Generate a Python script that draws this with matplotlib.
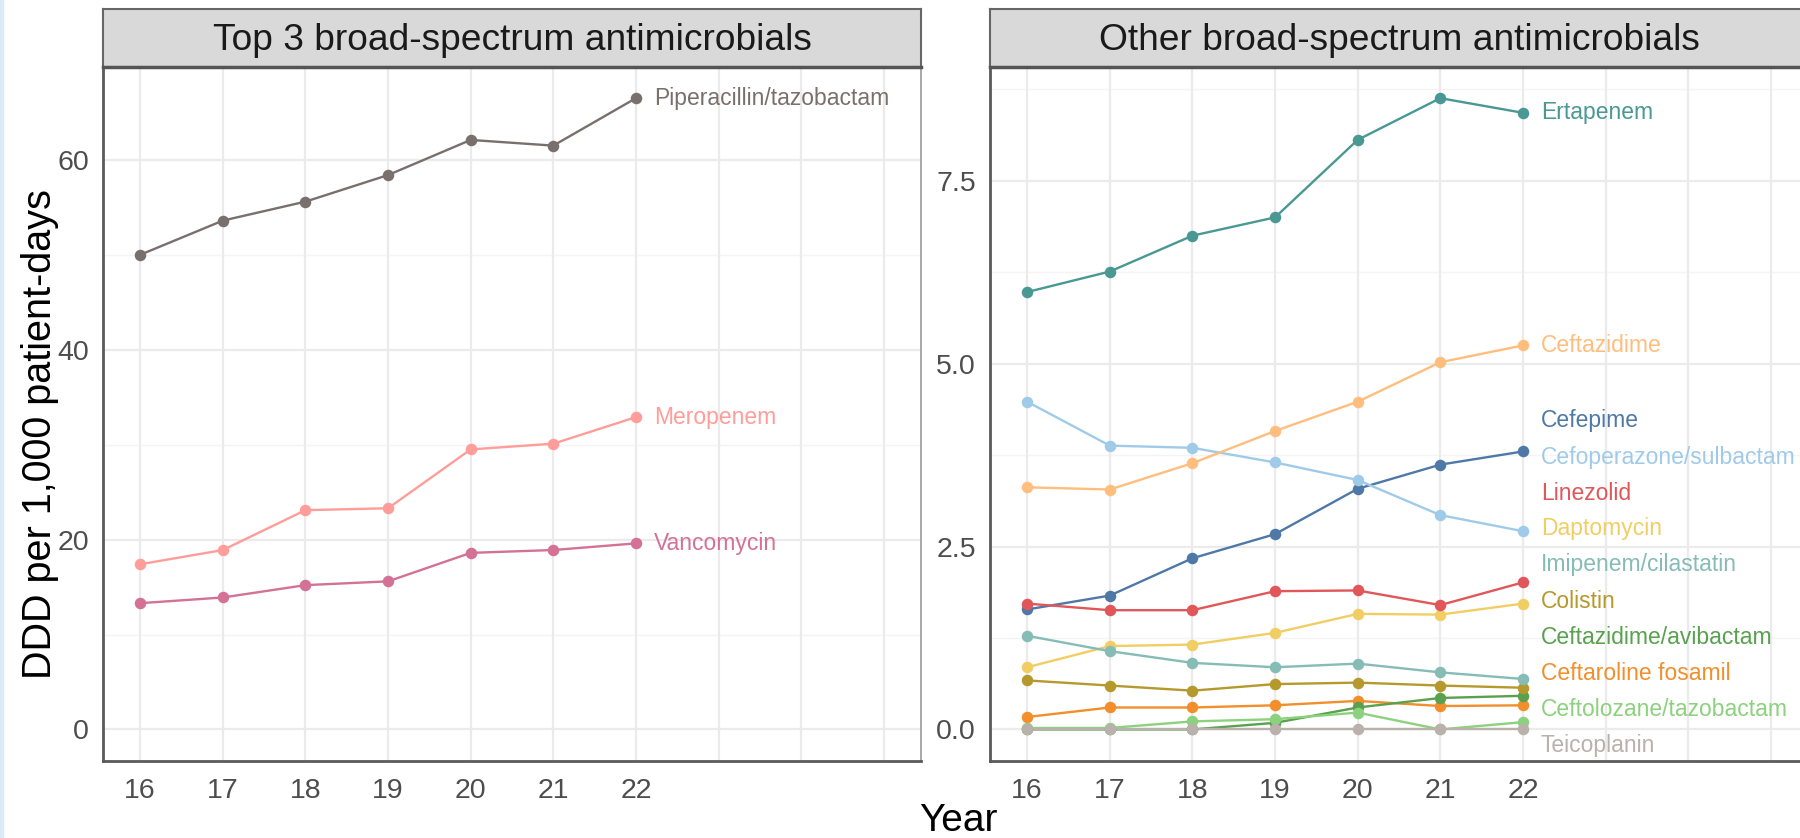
import matplotlib
matplotlib.use("Agg")
import matplotlib.pyplot as plt
from matplotlib.patches import Rectangle
import numpy as np

plt.rcParams['font.family'] = ['Liberation Sans', 'DejaVu Sans']

# ---------------- data ----------------
years = [16, 17, 18, 19, 20, 21, 22]
year_labels = ["16", "17", "18", "19", "20", "21", "22"]

# Top 3 panel
piperacillin_tazobactam = [50.0, 53.6, 55.6, 58.4, 62.1, 61.5, 66.5]
meropenem = [17.4, 18.9, 23.1, 23.3, 29.5, 30.1, 32.9]
vancomycin = [13.3, 13.9, 15.2, 15.6, 18.6, 18.9, 19.6]

# Other panel
cefepime = [1.64, 1.83, 2.34, 2.67, 3.29, 3.62, 3.80]
cefoperazone_sulbactam = [4.48, 3.88, 3.85, 3.65, 3.41, 2.93, 2.71]
ceftaroline_fosamil = [0.17, 0.30, 0.30, 0.33, 0.39, 0.32, 0.33]
ceftazidime = [3.31, 3.28, 3.64, 4.08, 4.48, 5.02, 5.25]
ceftazidime_avibactam = [0.0, 0.0, 0.0, 0.09, 0.30, 0.43, 0.46]
ceftolozane_tazobactam = [0.02, 0.02, 0.11, 0.14, 0.23, 0.0, 0.10]
colistin = [0.67, 0.60, 0.53, 0.62, 0.64, 0.60, 0.57]
daptomycin = [0.85, 1.14, 1.16, 1.32, 1.58, 1.57, 1.72]
ertapenem = [5.98, 6.26, 6.75, 7.00, 8.06, 8.63, 8.43]
imipenem_cilastatin = [1.28, 1.07, 0.91, 0.85, 0.90, 0.78, 0.69]
linezolid = [1.72, 1.63, 1.63, 1.89, 1.90, 1.70, 2.01]
teicoplanin = [0.0, 0.0, 0.0, 0.0, 0.0, 0.0, 0.0]

panel_titles = ["Top 3 broad-spectrum antimicrobials", "Other broad-spectrum antimicrobials"]

top3 = {
    "Meropenem": meropenem,
    "Piperacillin/tazobactam": piperacillin_tazobactam,
    "Vancomycin": vancomycin,
}
others = {
    "Cefepime": cefepime,
    "Cefoperazone/sulbactam": cefoperazone_sulbactam,
    "Ceftaroline fosamil": ceftaroline_fosamil,
    "Ceftazidime": ceftazidime,
    "Ceftazidime/avibactam": ceftazidime_avibactam,
    "Ceftolozane/tazobactam": ceftolozane_tazobactam,
    "Colistin": colistin,
    "Daptomycin": daptomycin,
    "Ertapenem": ertapenem,
    "Imipenem/cilastatin": imipenem_cilastatin,
    "Linezolid": linezolid,
    "Teicoplanin": teicoplanin,
}

colors = {
    "Cefepime": "#4E79A7",
    "Cefoperazone/sulbactam": "#A0CBE8",
    "Ceftaroline fosamil": "#F28E2B",
    "Ceftazidime": "#FFBE7D",
    "Ceftazidime/avibactam": "#59A14F",
    "Ceftolozane/tazobactam": "#8CD17D",
    "Colistin": "#B6992D",
    "Daptomycin": "#F1CE63",
    "Ertapenem": "#499894",
    "Imipenem/cilastatin": "#86BCB6",
    "Linezolid": "#E15759",
    "Meropenem": "#FF9D9A",
    "Piperacillin/tazobactam": "#79706E",
    "Teicoplanin": "#BAB0AC",
    "Vancomycin": "#D37295",
}

# ---------------- figure / layout ----------------
W, H = 1800, 838
fig = plt.figure(figsize=(W / 100, H / 100), dpi=100)

def fx(px):
    return px / W

def fy(py):
    return 1 - py / H

panel_top, panel_bot = 66.6, 761.0
strip_top = 9.0
panel_w = 818
lefts = [103, 990]

x_lo, x_hi = 16, 25
x_pad = 0.05 * (x_hi - x_lo)

grid_major = "#EBEBEB"
grid_minor = "#F4F4F4"


def repel(names, ends, ax, gap_px=36.0, bottom_px=16.0):
    """1-D label de-overlap: clusters centred on their mean (PAVA), then bounded."""
    y0, y1 = ax.get_ylim()
    ppu = (panel_bot - panel_top) / (y1 - y0)
    gap = gap_px / ppu
    lo = y0 + bottom_px / ppu
    order = list(np.argsort(ends))
    z = [ends[i] - k * gap for k, i in enumerate(order)]
    blocks = []  # [sum, count]
    for v in z:
        blocks.append([v, 1])
        while len(blocks) > 1 and blocks[-2][0] / blocks[-2][1] > blocks[-1][0] / blocks[-1][1]:
            s, c = blocks.pop()
            blocks[-1][0] += s
            blocks[-1][1] += c
    fit = []
    for s, c in blocks:
        fit += [s / c] * c
    ys = [fit[k] + k * gap for k in range(len(order))]
    pos = {}
    prev = None
    for k, i in enumerate(order):
        y = max(ys[k], lo)
        if prev is not None:
            y = max(y, prev + gap)
        pos[names[i]] = y
        prev = y
    return pos


def draw_panel(idx, series, title, major, minor, fmt):
    left = lefts[idx]
    ax = fig.add_axes([fx(left), fy(panel_bot), fx(panel_w), (panel_bot - panel_top) / H])
    vals = np.concatenate([np.asarray(v, float) for v in series.values()])
    dmin, dmax = min(0.0, vals.min()), vals.max()
    ypad = 0.05 * (dmax - dmin)
    ax.set_ylim(dmin - ypad, dmax + ypad)
    ax.set_xlim(x_lo - x_pad, x_hi + x_pad)

    for m in minor:
        ax.axhline(m, color=grid_minor, lw=1.0, zorder=0)
    for m in major:
        ax.axhline(m, color=grid_major, lw=1.6, zorder=0)
    for xv in range(x_lo, x_hi + 1):
        ax.axvline(xv, color=grid_major, lw=1.6, zorder=0)

    names = sorted(series.keys())
    for n in names:
        ax.plot(years, series[n], color=colors[n], lw=1.7, zorder=2,
                solid_capstyle='round')
    for n in names:
        ax.plot(years, series[n], 'o', color=colors[n], ms=8.3, mew=0, zorder=3)

    ends = [series[n][-1] for n in names]
    pos = repel(names, ends, ax)
    for n in names:
        ax.annotate(n, xy=(years[-1], pos[n]), xytext=(13, 0), textcoords='offset points',
                    va='center', ha='left', color=colors[n], fontsize=16.5, zorder=4)

    ax.set_yticks(major)
    ax.set_yticklabels([fmt(m) for m in major])
    ax.set_xticks(years)
    ax.set_xticklabels(year_labels)
    ax.tick_params(axis='both', length=0, labelsize=20.5, labelcolor="#4D4D4D")
    ax.tick_params(axis='y', pad=10)
    ax.tick_params(axis='x', pad=12.5)
    for s in ['top', 'right']:
        ax.spines[s].set_color('#A0A0A0')
        ax.spines[s].set_linewidth(1.3)
    for s in ['left', 'bottom']:
        ax.spines[s].set_color('#5A5A5A')
        ax.spines[s].set_linewidth(2.0)
    ax.set_facecolor('white')

    sax = fig.add_axes([fx(left), fy(panel_top), fx(panel_w), (panel_top - strip_top) / H])
    sax.set_facecolor('#D9D9D9')
    sax.set_xticks([])
    sax.set_yticks([])
    for s in sax.spines.values():
        s.set_color('#666666')
        s.set_linewidth(1.5)
    sax.spines['bottom'].set_linewidth(2.5)
    sax.spines['bottom'].set_color('#555555')
    sax.text(0.5, 0.46, title, transform=sax.transAxes, ha='center', va='center',
             fontsize=26.7, color='#1A1A1A')
    return ax


draw_panel(0, top3, panel_titles[0], [0, 20, 40, 60], [10, 30, 50],
           lambda v: f"{v:g}")
draw_panel(1, others, panel_titles[1], [0.0, 2.5, 5.0, 7.5], [1.25, 3.75, 6.25, 8.75],
           lambda v: f"{v:.1f}")

fig.text(fx(958), fy(831), "Year", ha='center', va='baseline', fontsize=28, color='black')
fig.text(fx(40), fy(434), "DDD per 1,000 patient-days",
         rotation=90, ha='center', va='center', fontsize=28.5, color='black')

fig.patches.append(Rectangle((0, 0), fx(3), 1, transform=fig.transFigure,
                             color='#DCE9F6', zorder=10))

fig.savefig("out.png", dpi=100, facecolor='white')
